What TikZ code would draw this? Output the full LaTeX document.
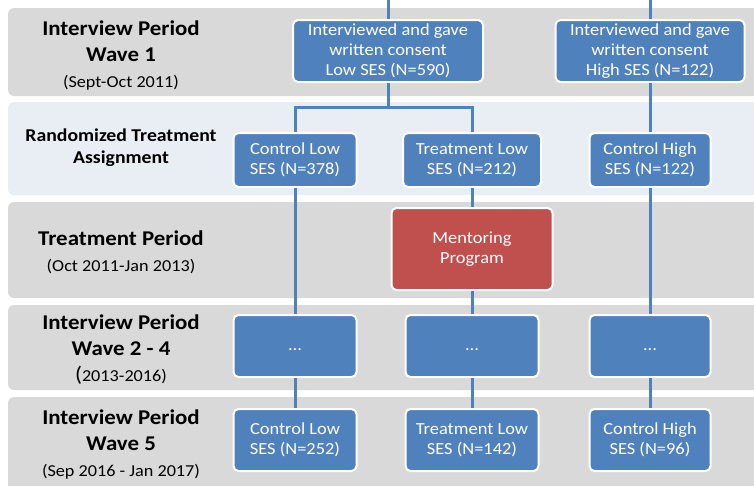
\documentclass[tikz,border=0pt]{standalone}
\usepackage{fontspec}
\setmainfont[FakeStretch=1.09]{Carlito}
\usepackage{tikz}
\usetikzlibrary{positioning}

\definecolor{boxblue}{HTML}{4F81BD}
\definecolor{mentorred}{HTML}{C0504D}
\definecolor{bandgray}{HTML}{D9D9D9}
\definecolor{bandblue}{HTML}{E9EDF4}

\tikzset{
  band/.style={fill=bandgray, rounded corners=6pt},
  sesbox/.style={draw=white, line width=2pt, fill=boxblue, rounded corners=5pt,
    text=white, align=center, inner sep=0pt, font=\fontsize{16.9}{20}\selectfont},
  dotbox/.style={sesbox, minimum height=62, text height=12, text depth=4},
  link/.style={draw=boxblue, line width=3pt},
  period/.style={align=center, inner sep=0pt, font=\bfseries\fontsize{21}{26}\selectfont},
}
\newcommand{\datefont}{\mdseries\fontsize{16.7}{23}\selectfont}

\begin{document}
\begin{tikzpicture}[x=1pt, y=-1pt]
\useasboundingbox (0,0) rectangle (754,485);
\clip (0,0) rectangle (754,485);
%%%%% Bands %%%%%
\fill[band] (8,8) rectangle (780,96);
\fill[band, fill=bandblue] (8,102) rectangle (780,195);
\foreach \top/\bot in {202/298, 305/390, 397/500}{
\fill[band] (8,\top) rectangle (780,\bot);
}
%%%%% Period labels %%%%%
\node[period] (lblWaveA) at (121,55) {Interview Period\\Wave 1\\{\datefont (Sept-Oct 2011)}};
\node[period, font=\bfseries\fontsize{18.1}{22}\selectfont] (lblRandom) at (121,148) {Randomized Treatment\\Assignment};
\node[period] (lblTreat) at (121,252) {Treatment Period\\{\datefont (Oct 2011-Jan 2013)}};
\node[period] (lblWaveB) at (121,350) {Interview Period\\Wave 2 - 4\\{\datefont{\fontsize{21}{26}\selectfont(}2013-2016)}};
\node[period] (lblWaveC) at (121,444) {Interview Period\\Wave 5\\{\datefont (Sep 2016 - Jan 2017)}};
%%%%% Wave 1 %%%%%
\node[sesbox, minimum width=190, minimum height=62] (lowW1) at (388,51) {Interviewed and gave\\written consent\\Low SES (N=590)};
\node[sesbox, minimum width=189, minimum height=62] (highW1) at (650,51) {Interviewed and gave\\written consent\\High SES (N=122)};
%%%%% Assignment %%%%%
\node[sesbox, minimum width=123, minimum height=54] (ctrlLow) at (295,160) {Control Low\\SES (N=378)};
\node[sesbox, minimum width=138, minimum height=54] (trtLow) at (472,160) {Treatment Low\\SES (N=212)};
\node[sesbox, minimum width=121, minimum height=54] (ctrlHigh) at (650,160) {Control High\\SES (N=122)};
%%%%% Treatment %%%%%
\node[sesbox, fill=mentorred, minimum width=161, minimum height=82] (mentor) at (472,249) {Mentoring\\Program};
%%%%% Waves 2-5 %%%%%
\node[dotbox, minimum width=123] (dotsCL) at (295,346) {...};
\node[dotbox, minimum width=133] (dotsTL) at (472,346) {...};
\node[dotbox, minimum width=121] (dotsCH) at (650,346) {...};
\node[sesbox, minimum width=123, minimum height=62] (endCL) at (295,440) {Control Low\\SES (N=252)};
\node[sesbox, minimum width=133, minimum height=62] (endTL) at (472,440) {Treatment Low\\SES (N=142)};
\node[sesbox, minimum width=121, minimum height=62] (endCH) at (650,440) {Control High\\SES (N=96)};
%%%%% Links %%%%%
\coordinate (topLow) at (388,0);
\coordinate (topHigh) at (650,0);
\coordinate (split) at (388,107);
\draw[link] (topLow) -- (lowW1);
\draw[link] (topHigh) -- (highW1);
\draw[link] (lowW1) -- (split);
\draw[link] (split) -| (ctrlLow);
\draw[link] (split) -| (trtLow);
\draw[link] (highW1) -- (ctrlHigh);
\draw[link] (ctrlLow) -- (dotsCL);
\draw[link] (trtLow) -- (mentor);
\draw[link] (mentor) -- (dotsTL);
\draw[link] (ctrlHigh) -- (dotsCH);
\draw[link] (dotsCL) -- (endCL);
\draw[link] (dotsTL) -- (endTL);
\draw[link] (dotsCH) -- (endCH);
\end{tikzpicture}
\end{document}
